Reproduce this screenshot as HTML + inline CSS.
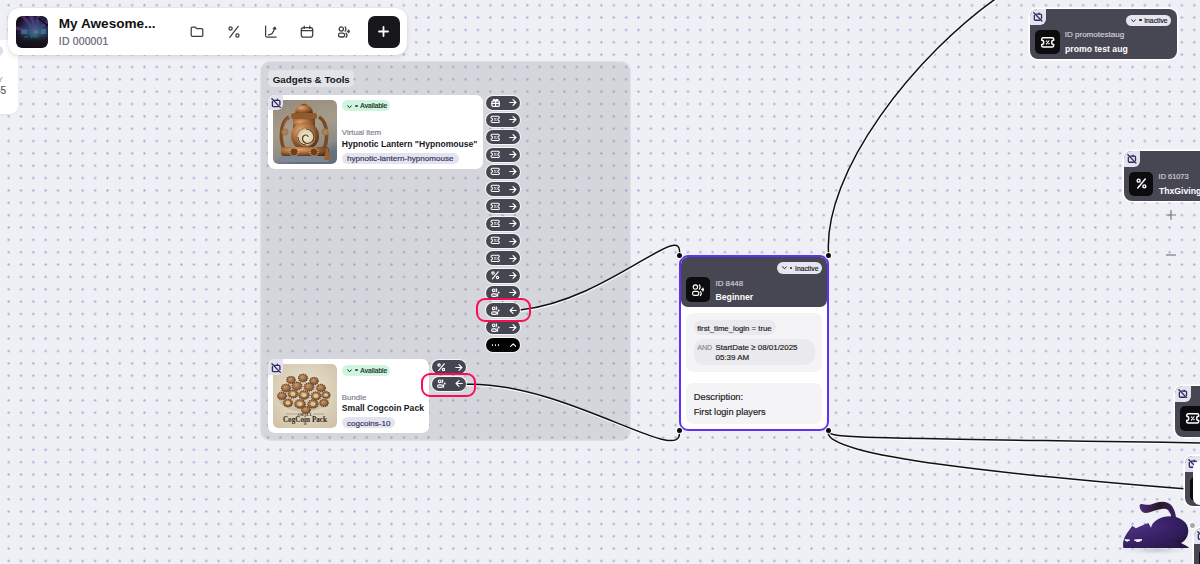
<!DOCTYPE html><html><head><meta charset="utf-8"><style>
*{margin:0;padding:0;box-sizing:border-box}
html,body{width:1200px;height:564px;overflow:hidden;background:#eff0f5;font-family:"Liberation Sans", sans-serif;position:relative}
.a{position:absolute}
.t{position:absolute;white-space:nowrap;line-height:1}
.n{-webkit-text-stroke:0.18px currentColor}
svg{display:block}
</style></head><body>
<svg class="a" style="left:0;top:0" width="1200" height="564"><defs><pattern id="dp" patternUnits="userSpaceOnUse" x="14.825" y="-0.975" width="12.35" height="12.35"><circle cx="6.175" cy="6.175" r="1.15" fill="#aaabd1"/></pattern></defs><rect width="1200" height="564" fill="url(#dp)"/></svg>
<div class="a" style="left:-12.00px;top:39.50px;width:30.00px;height:74.50px;background:#fff;border-radius:8px;box-shadow:0 1px 2px rgba(0,0,0,.05)"></div>
<div class="a" style="left:-7.00px;top:46.00px;width:10.20px;height:9.50px;border-radius:50%;background:#dcdcef"></div>
<div class="t n" style="left:-2.50px;top:76px;font-size:8px;font-weight:normal;color:#a3a3ad;">Y</div>
<div class="t n" style="left:-5.00px;top:86px;font-size:10px;font-weight:normal;color:#55555f;">45</div>
<div class="a" style="left:259.60px;top:61.30px;width:371.40px;height:379.70px;background:rgba(140,140,152,.26);border-radius:10px;box-shadow:inset 0 0 1.5px 1px rgba(255,255,255,.35)"></div>
<div class="a" style="left:267.80px;top:70.30px;width:85.90px;height:17.00px;background:rgba(255,255,255,.34);border-radius:5px"></div>
<div class="t" style="left:272.70px;top:75px;font-size:9.8px;font-weight:bold;color:#17171c;">Gadgets &amp; Tools</div>
<svg class="a" style="left:0;top:0" width="1200" height="564" fill="none"><path d="M520 310 C 608.66 300.31, 685.33 217.01, 679.3 255.4" stroke="#fff" stroke-width="1.6" opacity=".85" transform="translate(0.3 1.2)"/><path d="M466 384.2 C 565.49 381.65, 684.72 469.02, 679.3 431.0" stroke="#fff" stroke-width="1.6" opacity=".85" transform="translate(0.3 1.2)"/><path d="M828.7 255.4 C 821.68 172.13, 916.52 52.95, 1001.31 -5.21" stroke="#fff" stroke-width="1.6" opacity=".85" transform="translate(0.3 1.2)"/><path d="M828.7 431 C 828.7 439.31, 856.44 437.18, 1281.37 444.38" stroke="#fff" stroke-width="1.6" opacity=".85" transform="translate(0.3 1.2)"/><path d="M828.7 431 C 818.05 456.37, 1020.38 475.78, 1189.84 489.18" stroke="#fff" stroke-width="1.6" opacity=".85" transform="translate(0.3 1.2)"/><path d="M520 310 C 608.66 300.31, 685.33 217.01, 679.3 255.4" stroke="#111" stroke-width="1.5"/><path d="M466 384.2 C 565.49 381.65, 684.72 469.02, 679.3 431.0" stroke="#111" stroke-width="1.5"/><path d="M828.7 255.4 C 821.68 172.13, 916.52 52.95, 1001.31 -5.21" stroke="#111" stroke-width="1.5"/><path d="M828.7 431 C 828.7 439.31, 856.44 437.18, 1281.37 444.38" stroke="#111" stroke-width="1.5"/><path d="M828.7 431 C 818.05 456.37, 1020.38 475.78, 1189.84 489.18" stroke="#111" stroke-width="1.5"/></svg>
<div class="a" style="left:268.00px;top:95.00px;width:215.00px;height:74.00px;background:#fff;border-radius:7px"></div>
<svg class="a" style="left:273.2px;top:99.8px;border-radius:5px" width="64" height="64" viewBox="0 0 64 64"><defs><linearGradient id="lbg" x1="0" y1="0" x2="0.3" y2="1"><stop offset="0" stop-color="#95897a"/><stop offset=".5" stop-color="#a69c8a"/><stop offset=".85" stop-color="#8e8b86"/><stop offset="1" stop-color="#68707e"/></linearGradient>
<radialGradient id="brz" cx=".35" cy=".3" r=".8"><stop offset="0" stop-color="#e0a874"/><stop offset=".45" stop-color="#a8693a"/><stop offset="1" stop-color="#4e2c14"/></radialGradient>
<radialGradient id="disc" cx=".5" cy=".5" r=".5"><stop offset="0" stop-color="#f4ecd8"/><stop offset=".8" stop-color="#dccaa4"/><stop offset="1" stop-color="#8a6a44"/></radialGradient></defs>
<rect width="64" height="64" fill="url(#lbg)"/>
<path d="M27 6 Q31 1 35 6z" fill="#7a4a24"/>
<path d="M22 14 Q22 5 31 5 Q40 5 40 14z" fill="url(#brz)"/>
<rect x="18" y="13" width="26" height="6" rx="2.5" fill="#8e5a2e"/>
<path d="M20 19 h22 v10 h-22z" fill="url(#brz)"/>
<path d="M16 17 C7 22 6 42 13 52" stroke="#7a4a24" stroke-width="3.6" fill="none"/>
<path d="M46 17 C55 22 56 42 49 52" stroke="#7a4a24" stroke-width="3.6" fill="none"/>
<path d="M16 17 C9 22 8 40 14 50" stroke="#c08850" stroke-width="1" fill="none" opacity=".7"/>
<circle cx="32" cy="36" r="14" fill="url(#brz)"/>
<circle cx="33" cy="37" r="9.5" fill="url(#disc)"/>
<path d="M33 29 a8 8 0 0 1 8 8 a6.5 6.5 0 0 1-6.5 6.5 a5 5 0 0 1-5-5 a3.5 3.5 0 0 1 3.5-3.5 a2 2 0 0 1 2 2" stroke="#5a3a1e" stroke-width="1.2" fill="none"/>
<path d="M25 37 a8 8 0 0 0 8 8" stroke="#5a3a1e" stroke-width="1" fill="none"/>
<circle cx="12" cy="32" r="3.6" fill="#b07440"/><circle cx="12" cy="32" r="1.5" fill="#6a9ab0"/>
<circle cx="52" cy="32" r="3.6" fill="#b07440"/><circle cx="52" cy="32" r="1.5" fill="#6a9ab0"/>
<rect x="8" y="47" width="48" height="9" rx="3" fill="url(#brz)"/>
<circle cx="21" cy="52" r="4" fill="#6a4020" stroke="#d0a060" stroke-width="1.4" stroke-dasharray="1.3 .9"/>
<circle cx="41" cy="52" r="4" fill="#6a4020" stroke="#d0a060" stroke-width="1.4" stroke-dasharray="1.3 .9"/>
<rect x="6" y="56" width="50" height="6" rx="2" fill="#7f8898"/>
<path d="M51 60 l2-11 q1-2 2 0 l2 11z" fill="#a0602c"/>
</svg>
<div class="a" style="left:273.20px;top:99.80px;width:64.00px;height:64.00px;border-radius:5px;box-shadow:0 0 0 2px #fff"></div>
<div class="a" style="left:268.00px;top:95.00px;width:15.40px;height:15.40px;background:#e3e3f0;border-radius:7px 0 6px 0"></div>
<svg class="a" style="left:271.00px;top:98.20px" width="10" height="10" viewBox="0 0 10 10" ><g fill="none" stroke="#2f2b5c" stroke-width="1.35" stroke-linecap="round" stroke-linejoin="round"><path d="M0.9 0.8L9.3 9.4"/><path d="M1.4 3.6V7.6a1 1 0 0 0 1 1H7.2"/><path d="M3.6 2.3H7.9a1 1 0 0 1 1 1V6.8"/><path d="M6.4 1.1V2.3"/></g></svg>
<div class="a" style="left:341.80px;top:100.20px;width:48.50px;height:11.20px;background:#d0f5df;border-radius:6px"></div>
<svg class="a" style="left:347.00px;top:104.50px" width="5" height="4" viewBox="0 0 5 4" ><path d="M0.6 0.8L2.5 2.7 4.4 0.8" fill="none" stroke="#17261d" stroke-width="1" stroke-linecap="round" stroke-linejoin="round"/></svg>
<div class="a" style="left:355.40px;top:104.60px;width:2.40px;height:2.40px;border-radius:50%;background:#1f5570"></div>
<div class="t n" style="left:360.30px;top:103px;font-size:6.7px;font-weight:normal;color:#17261d;">Available</div>
<div class="t n" style="left:341.80px;top:129px;font-size:7.9px;font-weight:normal;color:#80808a;">Virtual item</div>
<div class="t" style="left:341.80px;top:140px;font-size:8.6px;font-weight:bold;color:#17171c;">Hypnotic Lantern "Hypnomouse"</div>
<div class="a" style="left:341.80px;top:152.90px;width:116.80px;height:10.90px;background:#e4e4f1;border-radius:6px"></div>
<div class="t n" style="left:346.90px;top:155px;font-size:8.1px;font-weight:normal;color:#35355a;">hypnotic-lantern-hypnomouse</div>
<div class="a" style="left:268.00px;top:359.40px;width:160.50px;height:74.00px;background:#fff;border-radius:7px"></div>
<svg class="a" style="left:273.2px;top:364.2px;border-radius:5px" width="64" height="64" viewBox="0 0 64 64"><defs><radialGradient id="cbg" cx=".5" cy=".45" r=".75"><stop offset="0" stop-color="#eee6d4"/><stop offset="1" stop-color="#cdbfa3"/></radialGradient>
<radialGradient id="coin" cx=".4" cy=".35" r=".7"><stop offset="0" stop-color="#c89a68"/><stop offset="1" stop-color="#7a5030"/></radialGradient></defs>
<rect width="64" height="64" fill="url(#cbg)"/>
<ellipse cx="31" cy="33" rx="26" ry="15" fill="#9a8466" opacity=".25"/>
<g fill="url(#coin)" stroke="#6a4424" stroke-width="1.4" stroke-dasharray="1.1 .8"><ellipse cx="18" cy="16" rx="4.2" ry="3.44"/><ellipse cx="30" cy="14" rx="4.5" ry="3.69"/><ellipse cx="41" cy="17" rx="4.2" ry="3.44"/><ellipse cx="13" cy="24" rx="4.5" ry="3.69"/><ellipse cx="24" cy="22" rx="4.8" ry="3.94"/><ellipse cx="36" cy="23" rx="4.8" ry="3.94"/><ellipse cx="48" cy="24" rx="4.3" ry="3.53"/><ellipse cx="9" cy="32" rx="4.3" ry="3.53"/><ellipse cx="20" cy="30" rx="4.8" ry="3.94"/><ellipse cx="31" cy="31" rx="5.2" ry="4.26"/><ellipse cx="43" cy="32" rx="4.8" ry="3.94"/><ellipse cx="53" cy="31" rx="4" ry="3.28"/><ellipse cx="15" cy="39" rx="4.5" ry="3.69"/><ellipse cx="27" cy="40" rx="5.2" ry="4.26"/><ellipse cx="40" cy="40" rx="5" ry="4.10"/><ellipse cx="51" cy="39" rx="4.2" ry="3.44"/><ellipse cx="33" cy="46" rx="4.3" ry="3.53"/></g>
<g fill="#e2cf9e" opacity=".9"><ellipse cx="20" cy="30" rx="2.40" ry="1.92"/><ellipse cx="31" cy="31" rx="2.60" ry="2.08"/><ellipse cx="43" cy="32" rx="2.40" ry="1.92"/><ellipse cx="53" cy="31" rx="2.00" ry="1.60"/><ellipse cx="15" cy="39" rx="2.25" ry="1.80"/><ellipse cx="27" cy="40" rx="2.60" ry="2.08"/><ellipse cx="40" cy="40" rx="2.50" ry="2.00"/></g>
<path d="M13 50h11M40 50h11" stroke="#6a5a44" stroke-width=".4"/>
<text x="32" y="51.5" font-size="3.8" text-anchor="middle" fill="#3a2a1a" font-family="Liberation Serif" font-weight="bold" letter-spacing=".3">SMALL</text>
<text x="32" y="57.5" font-size="7.2" text-anchor="middle" fill="#2e2418" font-family="Liberation Serif" font-weight="bold">CogCoin Pack</text>
<text x="32" y="61.2" font-size="3" text-anchor="middle" fill="#3a2a1a" font-family="Liberation Serif" font-weight="bold">10</text>
</svg>
<div class="a" style="left:273.20px;top:364.20px;width:64.00px;height:64.00px;border-radius:5px;box-shadow:0 0 0 2px #fff"></div>
<div class="a" style="left:268.00px;top:359.40px;width:15.40px;height:15.40px;background:#e3e3f0;border-radius:7px 0 6px 0"></div>
<svg class="a" style="left:271.00px;top:362.60px" width="10" height="10" viewBox="0 0 10 10" ><g fill="none" stroke="#2f2b5c" stroke-width="1.35" stroke-linecap="round" stroke-linejoin="round"><path d="M0.9 0.8L9.3 9.4"/><path d="M1.4 3.6V7.6a1 1 0 0 0 1 1H7.2"/><path d="M3.6 2.3H7.9a1 1 0 0 1 1 1V6.8"/><path d="M6.4 1.1V2.3"/></g></svg>
<div class="a" style="left:341.80px;top:364.60px;width:48.50px;height:11.20px;background:#d0f5df;border-radius:6px"></div>
<svg class="a" style="left:347.00px;top:368.90px" width="5" height="4" viewBox="0 0 5 4" ><path d="M0.6 0.8L2.5 2.7 4.4 0.8" fill="none" stroke="#17261d" stroke-width="1" stroke-linecap="round" stroke-linejoin="round"/></svg>
<div class="a" style="left:355.40px;top:369.00px;width:2.40px;height:2.40px;border-radius:50%;background:#1f5570"></div>
<div class="t n" style="left:360.30px;top:368px;font-size:6.7px;font-weight:normal;color:#17261d;">Available</div>
<div class="t n" style="left:341.80px;top:394px;font-size:7.9px;font-weight:normal;color:#80808a;">Bundle</div>
<div class="t" style="left:341.80px;top:404px;font-size:8.6px;font-weight:bold;color:#17171c;">Small Cogcoin Pack</div>
<div class="a" style="left:341.80px;top:417.30px;width:53.20px;height:10.90px;background:#e4e4f1;border-radius:6px"></div>
<div class="t n" style="left:346.90px;top:420px;font-size:8.1px;font-weight:normal;color:#35355a;">cogcoins-10</div>
<div class="a" style="left:485.80px;top:95.70px;width:34.00px;height:14.00px;background:#464652;border-radius:8px;box-shadow:0 0 0 1px rgba(255,255,255,.75)"></div>
<svg class="a" style="left:490.80px;top:98.10px" width="9.2" height="9.2" viewBox="0 0 10 10" ><g fill="none" stroke="#fff" stroke-width="1.35" stroke-linejoin="round" stroke-linecap="round"><rect x="1" y="3" width="8" height="6.2" rx="1.4"/><path d="M1 5.8h8M5 3v6.2"/><path d="M5 3C4.3 1.5 3 1 2.7 2.2 2.5 3 5 3 5 3 5 3 7.5 3 7.3 2.2 7 1 5.7 1.5 5 3"/></g></svg>
<svg class="a" style="left:508.90px;top:99.20px" width="8" height="7" viewBox="0 0 8 7" ><g fill="none" stroke="#fff" stroke-width="1.15" stroke-linecap="round" stroke-linejoin="round"><path d="M0.8 3.5h6M4 0.6l2.9 2.9L4 6.4"/></g></svg>
<div class="a" style="left:485.80px;top:112.99px;width:34.00px;height:14.00px;background:#464652;border-radius:8px;box-shadow:0 0 0 1px rgba(255,255,255,.75)"></div>
<svg class="a" style="left:490.15px;top:115.24px" width="10.4" height="8.7" viewBox="0 0 12 10" ><g fill="none" stroke="#fff" stroke-width="1.2" stroke-linejoin="round" stroke-linecap="round"><path d="M2.5 1.4H9.5a1.2 1.2 0 0 1 1.2 1.2V3.4a1.6 1.6 0 0 0 0 3.2V7.4a1.2 1.2 0 0 1-1.2 1.2H2.5a1.2 1.2 0 0 1-1.2-1.2V6.6a1.6 1.6 0 0 0 0-3.2V2.6a1.2 1.2 0 0 1 1.2-1.2z"/><path d="M7 3.7L5 6.3" stroke-width="0.8999999999999999"/><circle cx="5.1" cy="4" r=".3" fill="#fff" stroke-width=".5"/><circle cx="6.9" cy="6" r=".3" fill="#fff" stroke-width=".5"/></g></svg>
<svg class="a" style="left:508.90px;top:116.49px" width="8" height="7" viewBox="0 0 8 7" ><g fill="none" stroke="#fff" stroke-width="1.15" stroke-linecap="round" stroke-linejoin="round"><path d="M0.8 3.5h6M4 0.6l2.9 2.9L4 6.4"/></g></svg>
<div class="a" style="left:485.80px;top:130.28px;width:34.00px;height:14.00px;background:#464652;border-radius:8px;box-shadow:0 0 0 1px rgba(255,255,255,.75)"></div>
<svg class="a" style="left:490.15px;top:132.53px" width="10.4" height="8.7" viewBox="0 0 12 10" ><g fill="none" stroke="#fff" stroke-width="1.2" stroke-linejoin="round" stroke-linecap="round"><path d="M2.5 1.4H9.5a1.2 1.2 0 0 1 1.2 1.2V3.4a1.6 1.6 0 0 0 0 3.2V7.4a1.2 1.2 0 0 1-1.2 1.2H2.5a1.2 1.2 0 0 1-1.2-1.2V6.6a1.6 1.6 0 0 0 0-3.2V2.6a1.2 1.2 0 0 1 1.2-1.2z"/><path d="M7 3.7L5 6.3" stroke-width="0.8999999999999999"/><circle cx="5.1" cy="4" r=".3" fill="#fff" stroke-width=".5"/><circle cx="6.9" cy="6" r=".3" fill="#fff" stroke-width=".5"/></g></svg>
<svg class="a" style="left:508.90px;top:133.78px" width="8" height="7" viewBox="0 0 8 7" ><g fill="none" stroke="#fff" stroke-width="1.15" stroke-linecap="round" stroke-linejoin="round"><path d="M0.8 3.5h6M4 0.6l2.9 2.9L4 6.4"/></g></svg>
<div class="a" style="left:485.80px;top:147.57px;width:34.00px;height:14.00px;background:#464652;border-radius:8px;box-shadow:0 0 0 1px rgba(255,255,255,.75)"></div>
<svg class="a" style="left:490.15px;top:149.82px" width="10.4" height="8.7" viewBox="0 0 12 10" ><g fill="none" stroke="#fff" stroke-width="1.2" stroke-linejoin="round" stroke-linecap="round"><path d="M2.5 1.4H9.5a1.2 1.2 0 0 1 1.2 1.2V3.4a1.6 1.6 0 0 0 0 3.2V7.4a1.2 1.2 0 0 1-1.2 1.2H2.5a1.2 1.2 0 0 1-1.2-1.2V6.6a1.6 1.6 0 0 0 0-3.2V2.6a1.2 1.2 0 0 1 1.2-1.2z"/><path d="M7 3.7L5 6.3" stroke-width="0.8999999999999999"/><circle cx="5.1" cy="4" r=".3" fill="#fff" stroke-width=".5"/><circle cx="6.9" cy="6" r=".3" fill="#fff" stroke-width=".5"/></g></svg>
<svg class="a" style="left:508.90px;top:151.07px" width="8" height="7" viewBox="0 0 8 7" ><g fill="none" stroke="#fff" stroke-width="1.15" stroke-linecap="round" stroke-linejoin="round"><path d="M0.8 3.5h6M4 0.6l2.9 2.9L4 6.4"/></g></svg>
<div class="a" style="left:485.80px;top:164.86px;width:34.00px;height:14.00px;background:#464652;border-radius:8px;box-shadow:0 0 0 1px rgba(255,255,255,.75)"></div>
<svg class="a" style="left:490.15px;top:167.11px" width="10.4" height="8.7" viewBox="0 0 12 10" ><g fill="none" stroke="#fff" stroke-width="1.2" stroke-linejoin="round" stroke-linecap="round"><path d="M2.5 1.4H9.5a1.2 1.2 0 0 1 1.2 1.2V3.4a1.6 1.6 0 0 0 0 3.2V7.4a1.2 1.2 0 0 1-1.2 1.2H2.5a1.2 1.2 0 0 1-1.2-1.2V6.6a1.6 1.6 0 0 0 0-3.2V2.6a1.2 1.2 0 0 1 1.2-1.2z"/><path d="M7 3.7L5 6.3" stroke-width="0.8999999999999999"/><circle cx="5.1" cy="4" r=".3" fill="#fff" stroke-width=".5"/><circle cx="6.9" cy="6" r=".3" fill="#fff" stroke-width=".5"/></g></svg>
<svg class="a" style="left:508.90px;top:168.36px" width="8" height="7" viewBox="0 0 8 7" ><g fill="none" stroke="#fff" stroke-width="1.15" stroke-linecap="round" stroke-linejoin="round"><path d="M0.8 3.5h6M4 0.6l2.9 2.9L4 6.4"/></g></svg>
<div class="a" style="left:485.80px;top:182.15px;width:34.00px;height:14.00px;background:#464652;border-radius:8px;box-shadow:0 0 0 1px rgba(255,255,255,.75)"></div>
<svg class="a" style="left:490.15px;top:184.40px" width="10.4" height="8.7" viewBox="0 0 12 10" ><g fill="none" stroke="#fff" stroke-width="1.2" stroke-linejoin="round" stroke-linecap="round"><path d="M2.5 1.4H9.5a1.2 1.2 0 0 1 1.2 1.2V3.4a1.6 1.6 0 0 0 0 3.2V7.4a1.2 1.2 0 0 1-1.2 1.2H2.5a1.2 1.2 0 0 1-1.2-1.2V6.6a1.6 1.6 0 0 0 0-3.2V2.6a1.2 1.2 0 0 1 1.2-1.2z"/><path d="M7 3.7L5 6.3" stroke-width="0.8999999999999999"/><circle cx="5.1" cy="4" r=".3" fill="#fff" stroke-width=".5"/><circle cx="6.9" cy="6" r=".3" fill="#fff" stroke-width=".5"/></g></svg>
<svg class="a" style="left:508.90px;top:185.65px" width="8" height="7" viewBox="0 0 8 7" ><g fill="none" stroke="#fff" stroke-width="1.15" stroke-linecap="round" stroke-linejoin="round"><path d="M0.8 3.5h6M4 0.6l2.9 2.9L4 6.4"/></g></svg>
<div class="a" style="left:485.80px;top:199.44px;width:34.00px;height:14.00px;background:#464652;border-radius:8px;box-shadow:0 0 0 1px rgba(255,255,255,.75)"></div>
<svg class="a" style="left:490.15px;top:201.69px" width="10.4" height="8.7" viewBox="0 0 12 10" ><g fill="none" stroke="#fff" stroke-width="1.2" stroke-linejoin="round" stroke-linecap="round"><path d="M2.5 1.4H9.5a1.2 1.2 0 0 1 1.2 1.2V3.4a1.6 1.6 0 0 0 0 3.2V7.4a1.2 1.2 0 0 1-1.2 1.2H2.5a1.2 1.2 0 0 1-1.2-1.2V6.6a1.6 1.6 0 0 0 0-3.2V2.6a1.2 1.2 0 0 1 1.2-1.2z"/><path d="M7 3.7L5 6.3" stroke-width="0.8999999999999999"/><circle cx="5.1" cy="4" r=".3" fill="#fff" stroke-width=".5"/><circle cx="6.9" cy="6" r=".3" fill="#fff" stroke-width=".5"/></g></svg>
<svg class="a" style="left:508.90px;top:202.94px" width="8" height="7" viewBox="0 0 8 7" ><g fill="none" stroke="#fff" stroke-width="1.15" stroke-linecap="round" stroke-linejoin="round"><path d="M0.8 3.5h6M4 0.6l2.9 2.9L4 6.4"/></g></svg>
<div class="a" style="left:485.80px;top:216.73px;width:34.00px;height:14.00px;background:#464652;border-radius:8px;box-shadow:0 0 0 1px rgba(255,255,255,.75)"></div>
<svg class="a" style="left:490.15px;top:218.98px" width="10.4" height="8.7" viewBox="0 0 12 10" ><g fill="none" stroke="#fff" stroke-width="1.2" stroke-linejoin="round" stroke-linecap="round"><path d="M2.5 1.4H9.5a1.2 1.2 0 0 1 1.2 1.2V3.4a1.6 1.6 0 0 0 0 3.2V7.4a1.2 1.2 0 0 1-1.2 1.2H2.5a1.2 1.2 0 0 1-1.2-1.2V6.6a1.6 1.6 0 0 0 0-3.2V2.6a1.2 1.2 0 0 1 1.2-1.2z"/><path d="M7 3.7L5 6.3" stroke-width="0.8999999999999999"/><circle cx="5.1" cy="4" r=".3" fill="#fff" stroke-width=".5"/><circle cx="6.9" cy="6" r=".3" fill="#fff" stroke-width=".5"/></g></svg>
<svg class="a" style="left:508.90px;top:220.23px" width="8" height="7" viewBox="0 0 8 7" ><g fill="none" stroke="#fff" stroke-width="1.15" stroke-linecap="round" stroke-linejoin="round"><path d="M0.8 3.5h6M4 0.6l2.9 2.9L4 6.4"/></g></svg>
<div class="a" style="left:485.80px;top:234.02px;width:34.00px;height:14.00px;background:#464652;border-radius:8px;box-shadow:0 0 0 1px rgba(255,255,255,.75)"></div>
<svg class="a" style="left:490.15px;top:236.27px" width="10.4" height="8.7" viewBox="0 0 12 10" ><g fill="none" stroke="#fff" stroke-width="1.2" stroke-linejoin="round" stroke-linecap="round"><path d="M2.5 1.4H9.5a1.2 1.2 0 0 1 1.2 1.2V3.4a1.6 1.6 0 0 0 0 3.2V7.4a1.2 1.2 0 0 1-1.2 1.2H2.5a1.2 1.2 0 0 1-1.2-1.2V6.6a1.6 1.6 0 0 0 0-3.2V2.6a1.2 1.2 0 0 1 1.2-1.2z"/><path d="M7 3.7L5 6.3" stroke-width="0.8999999999999999"/><circle cx="5.1" cy="4" r=".3" fill="#fff" stroke-width=".5"/><circle cx="6.9" cy="6" r=".3" fill="#fff" stroke-width=".5"/></g></svg>
<svg class="a" style="left:508.90px;top:237.52px" width="8" height="7" viewBox="0 0 8 7" ><g fill="none" stroke="#fff" stroke-width="1.15" stroke-linecap="round" stroke-linejoin="round"><path d="M0.8 3.5h6M4 0.6l2.9 2.9L4 6.4"/></g></svg>
<div class="a" style="left:485.80px;top:251.31px;width:34.00px;height:14.00px;background:#464652;border-radius:8px;box-shadow:0 0 0 1px rgba(255,255,255,.75)"></div>
<svg class="a" style="left:490.15px;top:253.56px" width="10.4" height="8.7" viewBox="0 0 12 10" ><g fill="none" stroke="#fff" stroke-width="1.2" stroke-linejoin="round" stroke-linecap="round"><path d="M2.5 1.4H9.5a1.2 1.2 0 0 1 1.2 1.2V3.4a1.6 1.6 0 0 0 0 3.2V7.4a1.2 1.2 0 0 1-1.2 1.2H2.5a1.2 1.2 0 0 1-1.2-1.2V6.6a1.6 1.6 0 0 0 0-3.2V2.6a1.2 1.2 0 0 1 1.2-1.2z"/><path d="M7 3.7L5 6.3" stroke-width="0.8999999999999999"/><circle cx="5.1" cy="4" r=".3" fill="#fff" stroke-width=".5"/><circle cx="6.9" cy="6" r=".3" fill="#fff" stroke-width=".5"/></g></svg>
<svg class="a" style="left:508.90px;top:254.81px" width="8" height="7" viewBox="0 0 8 7" ><g fill="none" stroke="#fff" stroke-width="1.15" stroke-linecap="round" stroke-linejoin="round"><path d="M0.8 3.5h6M4 0.6l2.9 2.9L4 6.4"/></g></svg>
<div class="a" style="left:485.80px;top:268.60px;width:34.00px;height:14.00px;background:#464652;border-radius:8px;box-shadow:0 0 0 1px rgba(255,255,255,.75)"></div>
<svg class="a" style="left:491.00px;top:271.30px" width="8.6" height="8.6" viewBox="0 0 10 10" ><g fill="none" stroke="#fff" stroke-width="1.35" stroke-linecap="round"><path d="M8.4 0.9L1.6 9.1"/><circle cx="2.4" cy="2.4" r="1.35"/><circle cx="7.6" cy="7.6" r="1.35"/></g></svg>
<svg class="a" style="left:508.90px;top:272.10px" width="8" height="7" viewBox="0 0 8 7" ><g fill="none" stroke="#fff" stroke-width="1.15" stroke-linecap="round" stroke-linejoin="round"><path d="M0.8 3.5h6M4 0.6l2.9 2.9L4 6.4"/></g></svg>
<div class="a" style="left:485.80px;top:285.89px;width:34.00px;height:14.00px;background:#464652;border-radius:8px;box-shadow:0 0 0 1px rgba(255,255,255,.75)"></div>
<svg class="a" style="left:491.30px;top:288.49px" width="9" height="9" viewBox="0 0 9 9" ><g fill="none" stroke="#fff" stroke-width="1.1" stroke-linecap="round" stroke-linejoin="round"><circle cx="2.7" cy="2.3" r="1.35"/><rect x="0.6" y="5.9" width="4.8" height="2.5" rx="1.25"/><path d="M5.2 0.9Q6.3 2.3 5.2 3.7M6.2 5.7Q7.2 7.1 6.2 8.5"/></g><circle cx="7.7" cy="4.5" r="0.95" fill="#fff"/></svg>
<svg class="a" style="left:508.90px;top:289.39px" width="8" height="7" viewBox="0 0 8 7" ><g fill="none" stroke="#fff" stroke-width="1.15" stroke-linecap="round" stroke-linejoin="round"><path d="M0.8 3.5h6M4 0.6l2.9 2.9L4 6.4"/></g></svg>
<div class="a" style="left:485.80px;top:303.18px;width:34.00px;height:14.00px;background:#464652;border-radius:8px;box-shadow:0 0 0 1px rgba(255,255,255,.75)"></div>
<svg class="a" style="left:491.30px;top:305.78px" width="9" height="9" viewBox="0 0 9 9" ><g fill="none" stroke="#fff" stroke-width="1.1" stroke-linecap="round" stroke-linejoin="round"><circle cx="2.7" cy="2.3" r="1.35"/><rect x="0.6" y="5.9" width="4.8" height="2.5" rx="1.25"/><path d="M5.2 0.9Q6.3 2.3 5.2 3.7M6.2 5.7Q7.2 7.1 6.2 8.5"/></g><circle cx="7.7" cy="4.5" r="0.95" fill="#fff"/></svg>
<svg class="a" style="left:508.90px;top:306.68px" width="8" height="7" viewBox="0 0 8 7" ><g fill="none" stroke="#fff" stroke-width="1.15" stroke-linecap="round" stroke-linejoin="round"><path d="M7.2 3.5h-6M4 0.6L1.1 3.5 4 6.4"/></g></svg>
<div class="a" style="left:485.80px;top:320.47px;width:34.00px;height:14.00px;background:#464652;border-radius:8px;box-shadow:0 0 0 1px rgba(255,255,255,.75)"></div>
<svg class="a" style="left:491.30px;top:323.07px" width="9" height="9" viewBox="0 0 9 9" ><g fill="none" stroke="#fff" stroke-width="1.1" stroke-linecap="round" stroke-linejoin="round"><circle cx="2.7" cy="2.3" r="1.35"/><rect x="0.6" y="5.9" width="4.8" height="2.5" rx="1.25"/><path d="M5.2 0.9Q6.3 2.3 5.2 3.7M6.2 5.7Q7.2 7.1 6.2 8.5"/></g><circle cx="7.7" cy="4.5" r="0.95" fill="#fff"/></svg>
<svg class="a" style="left:508.90px;top:323.97px" width="8" height="7" viewBox="0 0 8 7" ><g fill="none" stroke="#fff" stroke-width="1.15" stroke-linecap="round" stroke-linejoin="round"><path d="M0.8 3.5h6M4 0.6l2.9 2.9L4 6.4"/></g></svg>
<div class="a" style="left:485.80px;top:337.76px;width:34.00px;height:14.00px;background:#030303;border-radius:8px;box-shadow:0 0 0 1px rgba(255,255,255,.75)"></div>
<div class="a" style="left:491.70px;top:343.96px;width:1.60px;height:1.60px;border-radius:50%;background:#fff"></div>
<div class="a" style="left:494.65px;top:343.96px;width:1.60px;height:1.60px;border-radius:50%;background:#fff"></div>
<div class="a" style="left:497.60px;top:343.96px;width:1.60px;height:1.60px;border-radius:50%;background:#fff"></div>
<svg class="a" style="left:509.80px;top:342.56px" width="6.5" height="4" viewBox="0 0 6.5 4" ><path d="M0.6 3.4L3.25 0.8 5.9 3.4" fill="none" stroke="#fff" stroke-width="1.1" stroke-linecap="round" stroke-linejoin="round"/></svg>
<div class="a" style="left:431.50px;top:360.00px;width:34.00px;height:14.00px;background:#464652;border-radius:8px;box-shadow:0 0 0 1px rgba(255,255,255,.75)"></div>
<svg class="a" style="left:436.70px;top:362.70px" width="8.6" height="8.6" viewBox="0 0 10 10" ><g fill="none" stroke="#fff" stroke-width="1.35" stroke-linecap="round"><path d="M8.4 0.9L1.6 9.1"/><circle cx="2.4" cy="2.4" r="1.35"/><circle cx="7.6" cy="7.6" r="1.35"/></g></svg>
<svg class="a" style="left:454.60px;top:363.50px" width="8" height="7" viewBox="0 0 8 7" ><g fill="none" stroke="#fff" stroke-width="1.15" stroke-linecap="round" stroke-linejoin="round"><path d="M0.8 3.5h6M4 0.6l2.9 2.9L4 6.4"/></g></svg>
<div class="a" style="left:431.50px;top:376.70px;width:34.00px;height:14.00px;background:#464652;border-radius:8px;box-shadow:0 0 0 1px rgba(255,255,255,.75)"></div>
<svg class="a" style="left:437.00px;top:379.30px" width="9" height="9" viewBox="0 0 9 9" ><g fill="none" stroke="#fff" stroke-width="1.1" stroke-linecap="round" stroke-linejoin="round"><circle cx="2.7" cy="2.3" r="1.35"/><rect x="0.6" y="5.9" width="4.8" height="2.5" rx="1.25"/><path d="M5.2 0.9Q6.3 2.3 5.2 3.7M6.2 5.7Q7.2 7.1 6.2 8.5"/></g><circle cx="7.7" cy="4.5" r="0.95" fill="#fff"/></svg>
<svg class="a" style="left:454.60px;top:380.20px" width="8" height="7" viewBox="0 0 8 7" ><g fill="none" stroke="#fff" stroke-width="1.15" stroke-linecap="round" stroke-linejoin="round"><path d="M7.2 3.5h-6M4 0.6L1.1 3.5 4 6.4"/></g></svg>
<div class="a" style="left:476.10px;top:297.90px;width:55.20px;height:24.00px;border:2.9px solid #fd0c55;border-radius:9px"></div>
<div class="a" style="left:421.10px;top:373.10px;width:54.90px;height:23.60px;border:2.9px solid #fd0c55;border-radius:9px"></div>
<div class="a" style="left:8.00px;top:8.00px;width:399.00px;height:47.00px;background:#fff;border-radius:11px;box-shadow:0 2px 5px rgba(20,20,40,.10),0 0 1px rgba(20,20,40,.18)"></div>
<svg class="a" style="left:15.8px;top:15.6px;border-radius:6px" width="32" height="32" viewBox="0 0 32 32"><defs><radialGradient id="tg" cx=".6" cy=".5" r=".6"><stop offset="0" stop-color="#5a6a80"/><stop offset=".25" stop-color="#2f5a78"/><stop offset=".7" stop-color="#2a2a50"/><stop offset="1" stop-color="#121018"/></radialGradient>
<linearGradient id="tb" x1="0" y1="0" x2="0" y2="1"><stop offset="0" stop-color="#15121c" stop-opacity="0"/><stop offset=".55" stop-color="#15121c" stop-opacity="0"/><stop offset=".8" stop-color="#17141e"/><stop offset="1" stop-color="#100e14"/></linearGradient></defs>
<rect width="32" height="32" fill="#141220"/>
<rect width="32" height="32" fill="url(#tg)"/>
<g fill="#7a3aa8" opacity=".5"><path d="M20 16L4 0H9z"/><path d="M20 16L13 0H17z"/><path d="M20 16L21 0H24z"/><path d="M20 16L32 3V7z"/><path d="M20 16L0 10V14z"/></g>
<g fill="#3aa0b0" opacity=".5"><rect x="5" y="14" width="6" height="4"/><rect x="14" y="19" width="8" height="3"/><rect x="25" y="13" width="5" height="5"/><rect x="8" y="20" width="4" height="2"/></g>
<path d="M22 2 L32 10" stroke="#0a0a10" stroke-width="1.5"/>
<circle cx="20" cy="16" r="2" fill="#8a8a98" opacity=".35"/>
<rect width="32" height="32" fill="url(#tb)"/></svg>
<div class="a" style="left:15.80px;top:15.60px;width:32.00px;height:32.00px;border-radius:6px;box-shadow:0 0 0 2px #fff"></div>
<div class="t" style="left:58.80px;top:17px;font-size:13.6px;font-weight:bold;color:#111;">My Awesome...</div>
<div class="t n" style="left:58.80px;top:37px;font-size:10.4px;font-weight:normal;color:#62626e;letter-spacing:0.2px;">ID 000001</div>
<svg class="a" style="left:190.00px;top:25.00px" width="14" height="14" viewBox="0 0 14 14" ><path d="M1.2 3.4a1.2 1.2 0 0 1 1.2-1.2h3l1.3 1.4h4.9a1.2 1.2 0 0 1 1.2 1.2v5.4a1.2 1.2 0 0 1-1.2 1.2H2.4a1.2 1.2 0 0 1-1.2-1.2z" fill="none" stroke="#3c3c48" stroke-width="1.25" stroke-linejoin="round"/></svg>
<svg class="a" style="left:226.50px;top:25.00px" width="14" height="14" viewBox="0 0 14 14" ><g fill="none" stroke="#3c3c48" stroke-width="1.25" stroke-linecap="round"><path d="M11.2 1.4L2.8 12.4"/><circle cx="3.6" cy="3.4" r="1.6"/><circle cx="10.4" cy="10.4" r="1.6"/></g></svg>
<svg class="a" style="left:263.60px;top:25.00px" width="14" height="14" viewBox="0 0 14 14" ><g fill="none" stroke="#3c3c48" stroke-width="1.25" stroke-linecap="round" stroke-linejoin="round"><path d="M1.6 1.2v9.6a1.2 1.2 0 0 0 1.2 1.2h9.4"/><path d="M4.4 9.8c3 0 5.4-2.6 6.4-7.2"/><path d="M9.2 3.6l1.6-1.4 1 1.9"/></g></svg>
<svg class="a" style="left:299.90px;top:25.00px" width="14" height="14" viewBox="0 0 14 14" ><g fill="none" stroke="#3c3c48" stroke-width="1.25" stroke-linejoin="round" stroke-linecap="round"><rect x="1.3" y="2.6" width="11.4" height="9.6" rx="2.2"/><path d="M1.3 5.6h11.4M4.2 1.2v2.2M9.8 1.2v2.2"/></g></svg>
<svg class="a" style="left:338.00px;top:26.30px" width="12" height="12" viewBox="0 0 12 12" ><g fill="none" stroke="#3c3c48" stroke-width="1.3" stroke-linecap="round" stroke-linejoin="round"><circle cx="3.3" cy="3.0" r="2.1"/><rect x="0.5" y="7.2" width="6.1" height="3.8" rx="1.9"/><path d="M7.1 0.9Q8.7 3 7.1 5.1M8.1 7.3Q9.9 9.2 8.1 11.2"/></g><path d="M10.6 3.6Q10.9 5.1 12.4 5.4Q10.9 5.7 10.6 7.2Q10.3 5.7 8.8 5.4Q10.3 5.1 10.6 3.6z" fill="#3c3c48" stroke="#3c3c48" stroke-width=".6" stroke-linejoin="round"/></svg>
<div class="a" style="left:368.00px;top:16.00px;width:32.00px;height:32.00px;border-radius:7px;background:#17171c"></div>
<svg class="a" style="left:378.30px;top:25.90px" width="11" height="11" viewBox="0 0 11 11" ><path d="M5.5 1v9M1 5.5h9" stroke="#fff" stroke-width="1.8" stroke-linecap="round"/></svg>
<div class="a" style="left:679.40px;top:255.20px;width:149.70px;height:176.00px;background:#fff;border:2.1px solid #5f30f6;border-radius:9px"></div>
<div class="a" style="left:681.40px;top:257.20px;width:145.60px;height:49.60px;background:#474753;border-radius:7px 7px 7px 7px"></div>
<div class="a" style="left:686.00px;top:277.00px;width:24.30px;height:25.00px;background:#0c0c0e;border-radius:5px"></div>
<svg class="a" style="left:691.90px;top:284.30px" width="12.4" height="12.4" viewBox="0 0 12 12" ><g fill="none" stroke="#fff" stroke-width="1.1" stroke-linecap="round" stroke-linejoin="round"><circle cx="3.3" cy="3.0" r="2.1"/><rect x="0.5" y="7.2" width="6.1" height="3.8" rx="1.9"/><path d="M7.1 0.9Q8.7 3 7.1 5.1M8.1 7.3Q9.9 9.2 8.1 11.2"/></g><path d="M10.6 3.6Q10.9 5.1 12.4 5.4Q10.9 5.7 10.6 7.2Q10.3 5.7 8.8 5.4Q10.3 5.1 10.6 3.6z" fill="#fff" stroke="#fff" stroke-width=".6" stroke-linejoin="round"/></svg>
<div class="t n" style="left:715.50px;top:280px;font-size:7.9px;font-weight:normal;color:#cfcfd8;">ID 8448</div>
<div class="t" style="left:715.50px;top:293px;font-size:8.7px;font-weight:bold;color:#fff;">Beginner</div>
<div class="a" style="left:776.50px;top:262.00px;width:45.50px;height:11.50px;background:#e6e6f0;border-radius:6px"></div>
<svg class="a" style="left:781.70px;top:266.30px" width="5" height="4" viewBox="0 0 5 4" ><path d="M0.6 0.8L2.5 2.7 4.4 0.8" fill="none" stroke="#1c1c24" stroke-width="1" stroke-linecap="round" stroke-linejoin="round"/></svg>
<div class="a" style="left:790.10px;top:266.55px;width:2.40px;height:2.40px;border-radius:50%;background:#1c1c24"></div>
<div class="t n" style="left:795.00px;top:266px;font-size:6.8px;font-weight:normal;color:#1c1c24;">Inactive</div>
<div class="a" style="left:686.00px;top:313.00px;width:135.50px;height:59.20px;background:#f4f4f6;border-radius:7px"></div>
<div class="a" style="left:693.70px;top:320.20px;width:82.00px;height:15.30px;background:#eaeaee;border-radius:8px"></div>
<div class="t n" style="left:697.20px;top:325px;font-size:7.78px;font-weight:normal;color:#1d1d25;">first_time_login = true</div>
<div class="a" style="left:693.70px;top:338.50px;width:121.10px;height:26.50px;background:#eaeaee;border-radius:10px"></div>
<div class="t n" style="left:697.20px;top:345px;font-size:7.1px;font-weight:normal;color:#8a8a94;">AND</div>
<div class="t n" style="left:715.50px;top:344px;font-size:7.95px;font-weight:normal;color:#1d1d25;">StartDate ≥ 08/01/2025</div>
<div class="t n" style="left:715.50px;top:354px;font-size:7.97px;font-weight:normal;color:#1d1d25;">05:39 AM</div>
<div class="a" style="left:686.00px;top:383.00px;width:135.50px;height:41.00px;background:#f4f4f6;border-radius:7px"></div>
<div class="t n" style="left:693.70px;top:392px;font-size:9.4px;font-weight:normal;color:#1d1d25;">Description:</div>
<div class="t n" style="left:693.70px;top:408px;font-size:9.2px;font-weight:normal;color:#1d1d25;">First login players</div>
<div class="a" style="left:676.70px;top:252.80px;width:5.20px;height:5.20px;border-radius:50%;background:#0a0a0a;box-shadow:0 0 0 1px rgba(255,255,255,.8)"></div>
<div class="a" style="left:826.20px;top:252.80px;width:5.20px;height:5.20px;border-radius:50%;background:#0a0a0a;box-shadow:0 0 0 1px rgba(255,255,255,.8)"></div>
<div class="a" style="left:676.80px;top:428.20px;width:5.20px;height:5.20px;border-radius:50%;background:#0a0a0a;box-shadow:0 0 0 1px rgba(255,255,255,.8)"></div>
<div class="a" style="left:826.20px;top:428.20px;width:5.20px;height:5.20px;border-radius:50%;background:#0a0a0a;box-shadow:0 0 0 1px rgba(255,255,255,.8)"></div>
<div class="a" style="left:1030.10px;top:8.90px;width:146.60px;height:50.00px;background:#474753;border-radius:8px;box-shadow:0 0 0 1.6px rgba(255,255,255,.95)"></div>
<div class="a" style="left:1030.10px;top:8.90px;width:16.00px;height:16.00px;background:#e3e3f0;border-radius:8px 0 6px 0"></div>
<svg class="a" style="left:1033.20px;top:12.10px" width="9.6" height="9.6" viewBox="0 0 10 10" ><g fill="none" stroke="#2f2b5c" stroke-width="1.35" stroke-linecap="round" stroke-linejoin="round"><path d="M0.9 0.8L9.3 9.4"/><path d="M1.4 3.6V7.6a1 1 0 0 0 1 1H7.2"/><path d="M3.6 2.3H7.9a1 1 0 0 1 1 1V6.8"/><path d="M6.4 1.1V2.3"/></g></svg>
<div class="a" style="left:1035.20px;top:29.50px;width:24.40px;height:24.40px;background:#0c0c0e;border-radius:5px"></div>
<svg class="a" style="left:1040.10px;top:35.50px" width="15.4" height="12.8" viewBox="0 0 12 10" ><g fill="none" stroke="#fff" stroke-width="1.15" stroke-linejoin="round" stroke-linecap="round"><path d="M2.5 1.4H9.5a1.2 1.2 0 0 1 1.2 1.2V3.4a1.6 1.6 0 0 0 0 3.2V7.4a1.2 1.2 0 0 1-1.2 1.2H2.5a1.2 1.2 0 0 1-1.2-1.2V6.6a1.6 1.6 0 0 0 0-3.2V2.6a1.2 1.2 0 0 1 1.2-1.2z"/><path d="M7 3.7L5 6.3" stroke-width="0.8624999999999999"/><circle cx="5.1" cy="4" r=".3" fill="#fff" stroke-width=".5"/><circle cx="6.9" cy="6" r=".3" fill="#fff" stroke-width=".5"/></g></svg>
<div class="t n" style="left:1064.70px;top:31px;font-size:8.05px;font-weight:normal;color:#cfcfd8;">ID promotestaug</div>
<div class="t" style="left:1065.00px;top:45px;font-size:8.7px;font-weight:bold;color:#fff;">promo test aug</div>
<div class="a" style="left:1125.70px;top:14.50px;width:45.70px;height:11.50px;background:#e6e6f0;border-radius:6px"></div>
<svg class="a" style="left:1130.90px;top:18.80px" width="5" height="4" viewBox="0 0 5 4" ><path d="M0.6 0.8L2.5 2.7 4.4 0.8" fill="none" stroke="#1c1c24" stroke-width="1" stroke-linecap="round" stroke-linejoin="round"/></svg>
<div class="a" style="left:1139.30px;top:19.05px;width:2.40px;height:2.40px;border-radius:50%;background:#1c1c24"></div>
<div class="t n" style="left:1144.20px;top:18px;font-size:6.8px;font-weight:normal;color:#1c1c24;">Inactive</div>
<div class="a" style="left:1124.00px;top:150.90px;width:136.00px;height:50.00px;background:#474753;border-radius:8px;box-shadow:0 0 0 1.6px rgba(255,255,255,.95)"></div>
<div class="a" style="left:1124.00px;top:150.90px;width:16.00px;height:16.00px;background:#e3e3f0;border-radius:8px 0 6px 0"></div>
<svg class="a" style="left:1127.10px;top:154.10px" width="9.6" height="9.6" viewBox="0 0 10 10" ><g fill="none" stroke="#2f2b5c" stroke-width="1.35" stroke-linecap="round" stroke-linejoin="round"><path d="M0.9 0.8L9.3 9.4"/><path d="M1.4 3.6V7.6a1 1 0 0 0 1 1H7.2"/><path d="M3.6 2.3H7.9a1 1 0 0 1 1 1V6.8"/><path d="M6.4 1.1V2.3"/></g></svg>
<div class="a" style="left:1129.10px;top:171.50px;width:24.40px;height:24.40px;background:#0c0c0e;border-radius:5px"></div>
<svg class="a" style="left:1135.80px;top:177.90px" width="11" height="11" viewBox="0 0 10 10" ><g fill="none" stroke="#fff" stroke-width="1.3" stroke-linecap="round"><path d="M8.4 0.9L1.6 9.1"/><circle cx="2.4" cy="2.4" r="1.35"/><circle cx="7.6" cy="7.6" r="1.35"/></g></svg>
<div class="t n" style="left:1158.60px;top:173px;font-size:7.4px;font-weight:normal;color:#cfcfd8;">ID 61073</div>
<div class="t" style="left:1158.90px;top:187px;font-size:8.7px;font-weight:bold;color:#fff;">ThxGiving</div>
<div class="a" style="left:1175.20px;top:385.60px;width:84.80px;height:51.10px;background:#474753;border-radius:8px;box-shadow:0 0 0 1.6px rgba(255,255,255,.95)"></div>
<div class="a" style="left:1175.20px;top:385.60px;width:16.00px;height:16.00px;background:#e3e3f0;border-radius:8px 0 6px 0"></div>
<svg class="a" style="left:1178.30px;top:388.80px" width="9.6" height="9.6" viewBox="0 0 10 10" ><g fill="none" stroke="#2f2b5c" stroke-width="1.35" stroke-linecap="round" stroke-linejoin="round"><path d="M0.9 0.8L9.3 9.4"/><path d="M1.4 3.6V7.6a1 1 0 0 0 1 1H7.2"/><path d="M3.6 2.3H7.9a1 1 0 0 1 1 1V6.8"/><path d="M6.4 1.1V2.3"/></g></svg>
<div class="a" style="left:1180.30px;top:406.20px;width:24.40px;height:24.40px;background:#0c0c0e;border-radius:5px"></div>
<svg class="a" style="left:1185.20px;top:412.20px" width="15.4" height="12.8" viewBox="0 0 12 10" ><g fill="none" stroke="#fff" stroke-width="1.15" stroke-linejoin="round" stroke-linecap="round"><path d="M2.5 1.4H9.5a1.2 1.2 0 0 1 1.2 1.2V3.4a1.6 1.6 0 0 0 0 3.2V7.4a1.2 1.2 0 0 1-1.2 1.2H2.5a1.2 1.2 0 0 1-1.2-1.2V6.6a1.6 1.6 0 0 0 0-3.2V2.6a1.2 1.2 0 0 1 1.2-1.2z"/><path d="M7 3.7L5 6.3" stroke-width="0.8624999999999999"/><circle cx="5.1" cy="4" r=".3" fill="#fff" stroke-width=".5"/><circle cx="6.9" cy="6" r=".3" fill="#fff" stroke-width=".5"/></g></svg>
<div class="a" style="left:1185.20px;top:456.00px;width:74.80px;height:49.80px;background:#474753;border-radius:8px;box-shadow:0 0 0 1.6px rgba(255,255,255,.95)"></div>
<div class="a" style="left:1185.20px;top:456.00px;width:16.00px;height:16.00px;background:#e3e3f0;border-radius:8px 0 6px 0"></div>
<svg class="a" style="left:1188.30px;top:459.20px" width="9.6" height="9.6" viewBox="0 0 10 10" ><g fill="none" stroke="#2f2b5c" stroke-width="1.35" stroke-linecap="round" stroke-linejoin="round"><path d="M0.9 0.8L9.3 9.4"/><path d="M1.4 3.6V7.6a1 1 0 0 0 1 1H7.2"/><path d="M3.6 2.3H7.9a1 1 0 0 1 1 1V6.8"/><path d="M6.4 1.1V2.3"/></g></svg>
<div class="a" style="left:1190.30px;top:476.60px;width:24.40px;height:24.40px;background:#0c0c0e;border-radius:5px"></div>
<svg class="a" style="left:1195.20px;top:482.60px" width="15.4" height="12.8" viewBox="0 0 12 10" ><g fill="none" stroke="#fff" stroke-width="1.15" stroke-linejoin="round" stroke-linecap="round"><path d="M2.5 1.4H9.5a1.2 1.2 0 0 1 1.2 1.2V3.4a1.6 1.6 0 0 0 0 3.2V7.4a1.2 1.2 0 0 1-1.2 1.2H2.5a1.2 1.2 0 0 1-1.2-1.2V6.6a1.6 1.6 0 0 0 0-3.2V2.6a1.2 1.2 0 0 1 1.2-1.2z"/><path d="M7 3.7L5 6.3" stroke-width="0.8624999999999999"/><circle cx="5.1" cy="4" r=".3" fill="#fff" stroke-width=".5"/><circle cx="6.9" cy="6" r=".3" fill="#fff" stroke-width=".5"/></g></svg>
<div class="a" style="left:1194.30px;top:528.00px;width:65.70px;height:52.00px;background:#474753;border-radius:8px;box-shadow:0 0 0 1.6px rgba(255,255,255,.95)"></div>
<div class="a" style="left:1194.30px;top:528.00px;width:16.00px;height:16.00px;background:#e3e3f0;border-radius:8px 0 6px 0"></div>
<svg class="a" style="left:1197.40px;top:531.20px" width="9.6" height="9.6" viewBox="0 0 10 10" ><g fill="none" stroke="#2f2b5c" stroke-width="1.35" stroke-linecap="round" stroke-linejoin="round"><path d="M0.9 0.8L9.3 9.4"/><path d="M1.4 3.6V7.6a1 1 0 0 0 1 1H7.2"/><path d="M3.6 2.3H7.9a1 1 0 0 1 1 1V6.8"/><path d="M6.4 1.1V2.3"/></g></svg>
<div class="a" style="left:1199.40px;top:548.60px;width:24.40px;height:24.40px;background:#0c0c0e;border-radius:5px"></div>
<svg class="a" style="left:1204.30px;top:554.60px" width="15.4" height="12.8" viewBox="0 0 12 10" ><g fill="none" stroke="#fff" stroke-width="1.15" stroke-linejoin="round" stroke-linecap="round"><path d="M2.5 1.4H9.5a1.2 1.2 0 0 1 1.2 1.2V3.4a1.6 1.6 0 0 0 0 3.2V7.4a1.2 1.2 0 0 1-1.2 1.2H2.5a1.2 1.2 0 0 1-1.2-1.2V6.6a1.6 1.6 0 0 0 0-3.2V2.6a1.2 1.2 0 0 1 1.2-1.2z"/><path d="M7 3.7L5 6.3" stroke-width="0.8624999999999999"/><circle cx="5.1" cy="4" r=".3" fill="#fff" stroke-width=".5"/><circle cx="6.9" cy="6" r=".3" fill="#fff" stroke-width=".5"/></g></svg>
<div class="a" style="left:1193.20px;top:460.50px;width:21.80px;height:44.50px;background:#fff;border-radius:7px"></div>
<div class="a" style="left:1190.00px;top:523.20px;width:4.60px;height:4.60px;border-radius:50%;background:#a9a9b3;box-shadow:0 0 0 1px #fff"></div>
<svg class="a" style="left:1164.50px;top:209.00px" width="12" height="12" viewBox="0 0 12 12" ><path d="M6 1v10M1 6h10" stroke="#7a7a84" stroke-width="1.2"/></svg>
<svg class="a" style="left:1164.50px;top:249.00px" width="12" height="12" viewBox="0 0 12 12" ><path d="M1 6h10" stroke="#7a7a84" stroke-width="1.2"/></svg>
<svg class="a" style="left:1115px;top:495px" width="85" height="65" viewBox="0 0 85 65">
<defs><linearGradient id="catg" x1="0" y1="0" x2="1" y2="1"><stop offset="0" stop-color="#563890"/><stop offset=".5" stop-color="#3a2266"/><stop offset="1" stop-color="#24153e"/></linearGradient>
<radialGradient id="humpg" cx=".4" cy=".3" r=".75"><stop offset="0" stop-color="#452a7a"/><stop offset=".7" stop-color="#301c5a"/><stop offset="1" stop-color="#201236"/></radialGradient>
<linearGradient id="tailg" x1="0" y1="0" x2="1" y2="0"><stop offset="0" stop-color="#4a2c78"/><stop offset=".55" stop-color="#2a1626"/><stop offset="1" stop-color="#3a2262"/></linearGradient>
<radialGradient id="shd" cx=".5" cy=".5" r=".5"><stop offset="0" stop-color="#c4c4d4"/><stop offset="1" stop-color="#e6e6ee" stop-opacity="0"/></radialGradient></defs>
<ellipse cx="41" cy="55" rx="38" ry="5.5" fill="url(#shd)"/>
<path d="M24.5 10.5 C 26 7, 30 11, 36 9.5 C 44 6, 52 5, 57 11 C 59 14, 60.5 18, 61 22 L 56.5 23 C 56 19, 54.5 15, 51 14 C 46 13, 40 16, 34 17.5 C 29 19, 25 17, 24.5 10.5 Z" fill="url(#tailg)"/>
<path d="M8.6 53 C 7.5 48, 9 42, 13 37 L 17.3 31 L 21 33.6 C 25 31.5, 29 29.5, 33.4 28.2 L 36 33 C 37 27, 44 21.5, 55 21.3 C 66 21.5, 73.5 28, 73.3 36 C 73 42, 70 46, 66 48 C 70 50, 73 51.5, 73.8 53 Z" fill="url(#humpg)"/>
<path d="M8.6 53 C 7.5 48, 9 42, 13 37 L 17.3 31 L 21 33.6 C 25 31.5, 29 29.5, 33.4 28.2 L 36 33 C 40 40, 48 45, 58 47 C 65 48.5, 71 50.5, 73.8 53 Z" fill="url(#catg)" opacity=".85"/>
<path d="M9.8 44.8 Q12 47.6 14.6 45 Z M19.5 45 Q23.5 48.2 27 44.6 Z" fill="#fff" stroke="#fff" stroke-width="1" stroke-linejoin="round"/>
</svg>
</body></html>
